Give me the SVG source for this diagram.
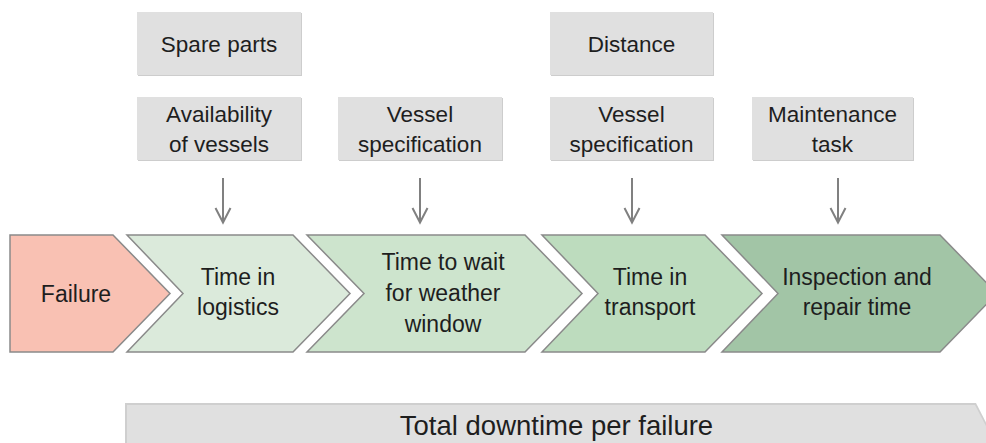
<svg xmlns="http://www.w3.org/2000/svg" width="986" height="443" viewBox="0 0 986 443">
<defs>
<style>
.t{font-family:"Liberation Sans",Arial,sans-serif;fill:#1e1e1e;text-anchor:middle}
.box{fill:#e0e0e0}
.sh{fill:#cdcdcd}
.bt{font-size:22.5px}
.ct{font-size:23px}
.chev{stroke:#8a8a8a;stroke-width:1.5;stroke-linejoin:miter}
.arr{stroke:#808080;stroke-width:2;fill:none}
</style>
</defs>
<rect width="986" height="443" fill="#ffffff"/>

<g id="spare-parts">
<rect class="sh" x="138" y="13" width="164" height="63"/>
<rect class="box" x="137" y="12" width="164" height="63"/>
<text class="t bt" x="219" y="52">Spare parts</text>
</g>
<g id="availability">
<rect class="sh" x="138" y="98" width="164" height="63"/>
<rect class="box" x="137" y="97" width="164" height="63"/>
<text class="t bt" x="219" y="122">Availability</text>
<text class="t bt" x="219" y="152">of vessels</text>
</g>
<g id="vessel-spec-1">
<rect class="sh" x="339" y="98" width="164" height="63"/>
<rect class="box" x="338" y="97" width="164" height="63"/>
<text class="t bt" x="420" y="122">Vessel</text>
<text class="t bt" x="420" y="152">specification</text>
</g>
<g id="distance">
<rect class="sh" x="551" y="13" width="163" height="63"/>
<rect class="box" x="550" y="12" width="163" height="63"/>
<text class="t bt" x="631.5" y="52">Distance</text>
</g>
<g id="vessel-spec-2">
<rect class="sh" x="551" y="98" width="163" height="63"/>
<rect class="box" x="550" y="97" width="163" height="63"/>
<text class="t bt" x="631.5" y="122">Vessel</text>
<text class="t bt" x="631.5" y="152">specification</text>
</g>
<g id="maintenance-task">
<rect class="sh" x="753" y="98" width="161" height="63"/>
<rect class="box" x="752" y="97" width="161" height="63"/>
<text class="t bt" x="832.5" y="122">Maintenance</text>
<text class="t bt" x="832.5" y="152">task</text>
</g>

<g id="connectors">
<path class="arr" d="M223 178V222M215.5 208L223 222.5L230.5 208"/>
<path class="arr" d="M420 178V222M412.5 208L420 222.5L427.5 208"/>
<path class="arr" d="M632 178V222M624.5 208L632 222.5L639.5 208"/>
<path class="arr" d="M838 178V222M830.5 208L838 222.5L845.5 208"/>
</g>

<g id="failure">
<polygon class="chev" fill="#f9c1b3" points="10,235 113,235 170,293.5 113,352 10,352"/>
<text class="t ct" x="76" y="302">Failure</text>
</g>
<g id="time-in-logistics">
<polygon class="chev" fill="#dbeadb" points="127,235 293,235 350,293.5 293,352 127,352 183,293.5"/>
<text class="t ct" x="238" y="285">Time in</text>
<text class="t ct" x="238" y="315">logistics</text>
</g>
<g id="time-to-wait">
<polygon class="chev" fill="#cde4cd" points="307,235 525,235 582,293.5 525,352 307,352 364,293.5"/>
<text class="t ct" x="443" y="270">Time to wait</text>
<text class="t ct" x="443" y="301">for weather</text>
<text class="t ct" x="443" y="332">window</text>
</g>
<g id="time-in-transport">
<polygon class="chev" fill="#bddcbe" points="542,235 705,235 762,293.5 705,352 542,352 598,293.5"/>
<text class="t ct" x="650" y="285">Time in</text>
<text class="t ct" x="650" y="315">transport</text>
</g>
<g id="inspection-repair">
<polygon class="chev" fill="#a2c5a6" points="722,235 940,235 997,293.5 940,352 722,352 778,293.5"/>
<text class="t ct" x="857" y="285">Inspection and</text>
<text class="t ct" x="857" y="315">repair time</text>
</g>

<g id="total-downtime">
<polygon fill="#cfcfcf" points="125,403 976,403 1000,450 125,450"/>
<polygon fill="#e0e0e0" points="127,405 975,405 999,451 127,451"/>
<text class="t" style="font-size:27.5px" x="556.5" y="435">Total downtime per failure</text>
</g>
</svg>
